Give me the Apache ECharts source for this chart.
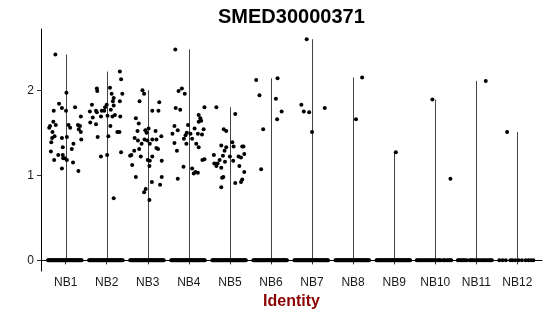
<!DOCTYPE html>
<html>
<head>
<meta charset="utf-8">
<script src="https://cdn.jsdelivr.net/npm/echarts@6/dist/echarts.min.js"></script>
<style>html,body{margin:0;padding:0;background:#fff}#chart{width:550px;height:316px}</style>
</head>
<body>
<div id="chart"></div>
<script>
const titleText = 'SMED30000371';
const xAxisTitle = 'Identity';
const categories = ['NB1','NB2','NB3','NB4','NB5','NB6','NB7','NB8','NB9','NB10','NB11','NB12'];
const yTicks = [0, 1, 2];

// Non-zero expression values per identity: [jitter, value]
const nb1Points = [[-0.25,2.42],[0.02,1.97],[-0.16,1.84],[-0.09,1.79],[-0.29,1.76],[0.01,1.76],[0.23,1.80],[0.37,1.69],[-0.30,1.63],[-0.38,1.58],[-0.40,1.56],[-0.24,1.59],[0.07,1.59],[0.11,1.56],[0.30,1.59],[0.35,1.58],[0.32,1.54],[0.37,1.51],[-0.32,1.51],[-0.27,1.46],[-0.33,1.44],[-0.09,1.44],[0.03,1.45],[0.38,1.42],[-0.35,1.39],[0.19,1.37],[-0.07,1.33],[0.15,1.31],[-0.36,1.28],[-0.18,1.24],[-0.07,1.24],[-0.06,1.20],[-0.02,1.20],[0.03,1.18],[-0.28,1.18],[0.18,1.15],[-0.09,1.08],[0.31,1.05]];
const nb2Points = [[0.32,2.22],[0.35,2.13],[0.08,2.03],[-0.24,2.02],[-0.23,1.99],[0.12,1.96],[0.38,1.96],[0.17,1.91],[0.15,1.87],[0.32,1.87],[-0.36,1.83],[0.00,1.83],[0.17,1.82],[-0.04,1.80],[0.10,1.77],[-0.41,1.75],[-0.26,1.76],[-0.12,1.76],[-0.06,1.76],[-0.24,1.74],[0.02,1.70],[0.14,1.69],[0.20,1.71],[0.33,1.69],[-0.34,1.68],[-0.14,1.69],[-0.40,1.62],[-0.26,1.60],[0.09,1.58],[0.26,1.51],[0.31,1.51],[-0.22,1.45],[0.04,1.46],[0.35,1.27],[-0.14,1.22],[0.01,1.24],[0.17,0.73]];
const nb3Points = [[-0.13,2.00],[-0.09,1.96],[-0.20,1.87],[0.28,1.86],[0.11,1.76],[0.26,1.76],[-0.29,1.67],[-0.22,1.61],[0.02,1.55],[-0.06,1.53],[-0.25,1.52],[0.19,1.52],[-0.03,1.50],[-0.32,1.44],[-0.24,1.41],[-0.08,1.42],[-0.01,1.41],[0.11,1.42],[0.21,1.42],[0.33,1.46],[-0.15,1.37],[0.05,1.37],[-0.33,1.29],[-0.21,1.31],[0.21,1.32],[0.25,1.31],[-0.40,1.24],[-0.17,1.22],[0.11,1.22],[0.00,1.18],[0.05,1.17],[-0.38,1.12],[0.04,1.11],[0.34,1.17],[-0.29,0.98],[0.10,0.92],[0.34,0.98],[0.30,0.89],[-0.05,0.84],[-0.09,0.80],[0.04,0.71],[-0.43,1.23]];
const nb4Points = [[-0.33,2.48],[-0.17,2.02],[-0.25,1.99],[-0.10,1.96],[-0.32,1.79],[-0.21,1.77],[0.38,1.80],[0.24,1.71],[0.28,1.67],[0.30,1.64],[0.24,1.63],[-0.35,1.58],[-0.02,1.59],[-0.27,1.53],[0.14,1.55],[0.36,1.54],[-0.40,1.49],[-0.05,1.50],[-0.08,1.47],[0.04,1.49],[0.22,1.49],[0.32,1.48],[-0.12,1.43],[0.08,1.43],[-0.06,1.37],[-0.35,1.38],[0.18,1.37],[0.24,1.33],[-0.29,1.29],[0.33,1.18],[0.38,1.19],[-0.13,1.10],[0.08,1.08],[0.16,1.04],[0.22,1.03],[-0.27,0.96],[0.12,1.02]];
const nb5Points = [[-0.33,1.80],[0.13,1.72],[-0.15,1.54],[-0.09,1.52],[0.06,1.39],[-0.21,1.35],[-0.09,1.33],[0.09,1.34],[0.30,1.34],[0.33,1.34],[-0.13,1.29],[0.35,1.25],[-0.39,1.24],[-0.17,1.23],[0.00,1.22],[0.21,1.22],[0.27,1.21],[-0.25,1.18],[-0.12,1.16],[0.08,1.17],[-0.38,1.14],[-0.30,1.14],[-0.33,1.11],[-0.21,1.09],[0.23,1.11],[0.35,1.04],[-0.16,0.98],[-0.19,0.97],[0.30,0.95],[0.27,0.92],[0.13,0.91],[-0.21,0.86]];
const nb6Points = [[-0.36,2.12],[0.16,2.14],[-0.28,1.94],[0.12,1.90],[0.26,1.75],[0.15,1.66],[-0.19,1.54],[-0.24,1.07]];
const nb7Points = [[-0.13,2.60],[-0.26,1.83],[-0.20,1.75],[-0.07,1.74],[0.31,1.79],[0.00,1.51]];
const nb8Points = [[0.22,2.15],[0.07,1.66]];
const nb9Points = [[0.04,1.27]];
const nb10Points = [[-0.07,1.89],[0.37,0.96]];
const nb11Points = [[0.23,2.11]];
const nb12Points = [[-0.25,1.51]];

// Jitter positions of the zero-valued cells
const zeroJitterDense = [-0.43,-0.41,-0.39,-0.37,-0.35,-0.33,-0.31,-0.29,-0.27,-0.25,-0.23,-0.21,-0.19,-0.17,-0.15,-0.13,-0.11,-0.09,-0.07,-0.05,-0.03,-0.01,0.01,0.03,0.05,0.07,0.09,0.11,0.13,0.15,0.17,0.19,0.21,0.23,0.25,0.27,0.29,0.31,0.33,0.35,0.37,0.39];
const nb10Zero = [-0.45,-0.42,-0.39,-0.36,-0.33,-0.30,-0.27,-0.24,-0.21,-0.18,-0.15,-0.12,-0.09,-0.06,-0.03,0.00,0.03,0.07,0.10,0.13,0.19,0.22,0.25,0.30,0.33,0.36,0.39];
const nb11Zero = [-0.45,-0.42,-0.39,-0.36,-0.33,-0.30,-0.27,-0.23,-0.16,-0.13,-0.10,-0.06,-0.02,0.03,0.06,0.10,0.14,0.18,0.21,0.25,0.29,0.32,0.35,0.38];
const nb12Zero = [-0.44,-0.36,-0.28,-0.17,-0.12,-0.05,0.03,0.11,0.20,0.27,0.33,0.39];

const groupPoints = [nb1Points,nb2Points,nb3Points,nb4Points,nb5Points,nb6Points,nb7Points,nb8Points,nb9Points,nb10Points,nb11Points,nb12Points];
const groupZeros = [zeroJitterDense,zeroJitterDense,zeroJitterDense,zeroJitterDense,zeroJitterDense,zeroJitterDense,zeroJitterDense,zeroJitterDense,zeroJitterDense,nb10Zero,nb11Zero,nb12Zero];

const scatterData = [];
const violinData = [];
categories.forEach((c, i) => {
  const pos = i + 1;
  groupZeros[i].forEach(j => scatterData.push([pos + j, 0]));
  groupPoints[i].forEach(p => scatterData.push([pos + p[0], p[1]]));
  const maxV = groupPoints[i].reduce((m, p) => Math.max(m, p[1]), 0);
  violinData.push([pos, maxV]);
});

const font = 'Liberation Sans, Arial, Helvetica, sans-serif';
const chart = echarts.init(document.getElementById('chart'), null, {renderer: 'canvas'});
chart.setOption({
  animation: false,
  backgroundColor: '#ffffff',
  title: {
    text: titleText, left: 213, top: 2,
    textStyle: {fontFamily: font, fontSize: 20, fontWeight: 'bold', color: '#000'}
  },
  grid: {left: 41, right: 8, top: 29, bottom: 45, containLabel: false},
  xAxis: {
    type: 'value', min: 0.4, max: 12.6,
    name: xAxisTitle, nameLocation: 'middle', nameGap: 21,
    nameTextStyle: {fontFamily: font, fontSize: 16, fontWeight: 'bold', color: '#8b0000'},
    axisLine: {show: true, lineStyle: {color: '#000', width: 1}},
    axisTick: {show: true, length: 4, customValues: categories.map((c, i) => i + 1), lineStyle: {color: '#333'}},
    axisLabel: {customValues: categories.map((c, i) => i + 1), margin: 6, fontFamily: font, fontSize: 12, color: '#1a1a1a',
      formatter: v => categories[Math.round(v) - 1] || ''},
    splitLine: {show: false}
  },
  yAxis: {
    type: 'value', min: -0.125, max: 2.72,
    axisLine: {show: true, lineStyle: {color: '#000', width: 1}},
    axisTick: {show: true, length: 4, customValues: yTicks, lineStyle: {color: '#333'}},
    axisLabel: {customValues: yTicks, margin: 7, fontFamily: font, fontSize: 12, color: '#1a1a1a'},
    splitLine: {show: false}
  },
  series: [
    {
      type: 'custom', z: 1,
      data: violinData,
      renderItem: (params, api) => {
        const x = api.value(0), top = api.value(1);
        const p0 = api.coord([x, 0]);
        const p1 = api.coord([x, top]);
        const px = Math.round(p0[0]) + 0.5;
        return {type: 'line', shape: {x1: px, y1: p0[1], x2: px, y2: p1[1]}, style: {stroke: '#444', lineWidth: 1}};
      }
    },
    {
      type: 'scatter', z: 2,
      data: scatterData,
      symbol: 'circle', symbolSize: 4,
      itemStyle: {color: '#000', opacity: 1},
      silent: true
    }
  ]
});
</script>
</body>
</html>
